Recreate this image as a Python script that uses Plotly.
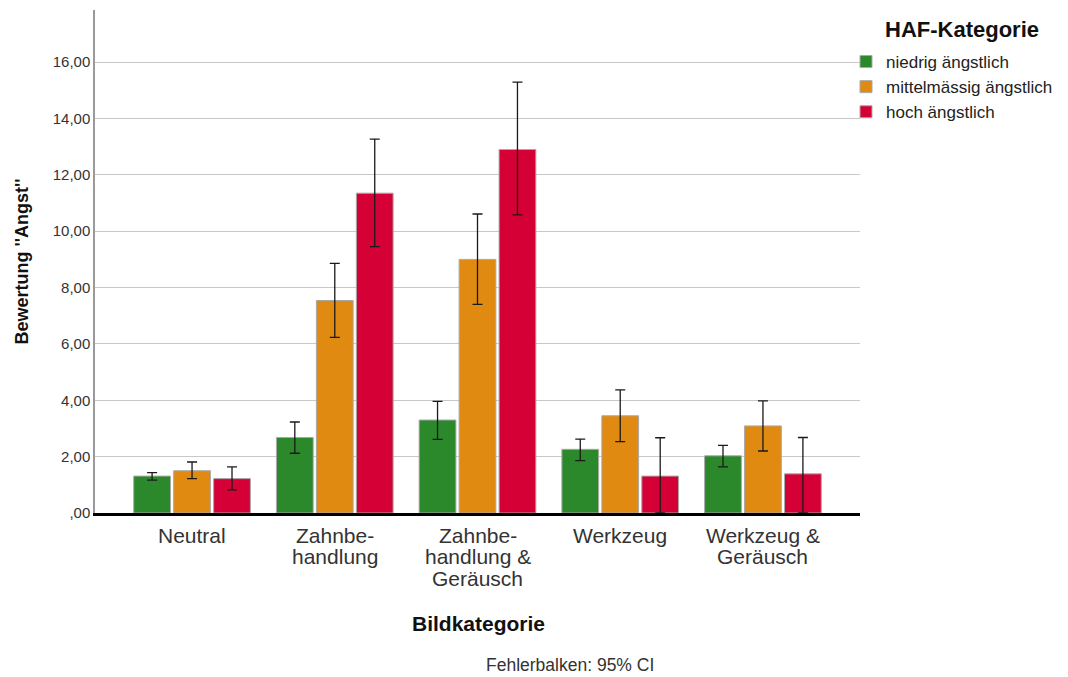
import plotly.graph_objects as go

# Picture categories (x axis), one entry per line of the label
categories = [
    ["Neutral"],
    ["Zahnbe-", "handlung"],
    ["Zahnbe-", "handlung &", "Geräusch"],
    ["Werkzeug"],
    ["Werkzeug &", "Geräusch"],
]

# Mean ratings per anxiety group
niedrig_mean = [1.31, 2.68, 3.30, 2.26, 2.03]
mittel_mean = [1.50, 7.54, 9.00, 3.45, 3.09]
hoch_mean = [1.22, 11.35, 12.90, 1.31, 1.39]

# 95% CI bounds per anxiety group
niedrig_upper = [1.43, 3.23, 3.96, 2.62, 2.40]
niedrig_lower = [1.17, 2.12, 2.61, 1.86, 1.64]
mittel_upper = [1.81, 8.86, 10.61, 4.37, 3.98]
mittel_lower = [1.22, 6.23, 7.40, 2.53, 2.20]
hoch_upper = [1.64, 13.27, 15.29, 2.67, 2.68]
hoch_lower = [0.82, 9.45, 10.58, 0.00, 0.00]

group_names = ["niedrig ängstlich", "mittelmässig ängstlich", "hoch ängstlich"]
group_colors = ["#2b882b", "#e08a12", "#d50036"]

y_ticks = [0, 2, 4, 6, 8, 10, 12, 14, 16]
y_ticktext = [",00", "2,00", "4,00", "6,00", "8,00", "10,00", "12,00", "14,00", "16,00"]

FONT = "Arial, Liberation Sans, sans-serif"

# plot area in pixels (used to place the free text)
PLOT_L, PLOT_R, PLOT_T, PLOT_B = 95, 860, 10, 513
W, H = 1068, 677


def px_x(px):
    return (px - PLOT_L) / (PLOT_R - PLOT_L)


def px_y(py):
    return (PLOT_B - py) / (PLOT_B - PLOT_T)


fig = go.Figure()
series = [
    (niedrig_mean, niedrig_upper, niedrig_lower),
    (mittel_mean, mittel_upper, mittel_lower),
    (hoch_mean, hoch_upper, hoch_lower),
]
x_idx = list(range(len(categories)))
for name, color, (mean, up, lo) in zip(group_names, group_colors, series):
    fig.add_trace(go.Bar(
        x=x_idx,
        y=mean,
        name=name,
        marker=dict(color=color, line=dict(color="#a9a9a9", width=1)),
        error_y=dict(
            type="data",
            symmetric=False,
            array=[u - m for u, m in zip(up, mean)],
            arrayminus=[m - l for m, l in zip(mean, lo)],
            color="#1a1a1a",
            thickness=1.3,
            width=5,
        ),
    ))

annotations = []
# category labels with tight line spacing
for i, lines in enumerate(categories):
    for k, line in enumerate(lines):
        annotations.append(dict(
            text=line, xref="x", yref="paper",
            x=i, y=px_y(535 + 21.5 * k),
            xanchor="center", yanchor="middle", showarrow=False,
            font=dict(size=21, color="#333333"),
        ))

annotations += [
    dict(text="<b>Bildkategorie</b>", xref="paper", yref="paper",
         x=px_x(478), y=px_y(623), xanchor="center", yanchor="middle",
         showarrow=False, font=dict(size=21, color="#111111")),
    dict(text="Fehlerbalken: 95% CI", xref="paper", yref="paper",
         x=px_x(570), y=px_y(665), xanchor="center", yanchor="middle",
         showarrow=False, font=dict(size=17.5, color="#333333")),
    dict(text="<b>HAF-Kategorie</b>", xref="paper", yref="paper",
         x=px_x(962), y=px_y(30), xanchor="center", yanchor="middle",
         showarrow=False, font=dict(size=22, color="#111111")),
]

fig.update_layout(
    width=W,
    height=H,
    barmode="group",
    bargap=0.16,
    bargroupgap=0.08,
    plot_bgcolor="white",
    paper_bgcolor="white",
    font=dict(family=FONT, color="#222222"),
    margin=dict(l=PLOT_L, r=W - PLOT_R, t=PLOT_T, b=H - PLOT_B),
    xaxis=dict(
        tickmode="array",
        tickvals=x_idx,
        showticklabels=False,
        range=[-0.68, 4.68],
        showline=True,
        linecolor="black",
        linewidth=3,
        showgrid=False,
        ticks="",
    ),
    yaxis=dict(
        range=[0, 17.85],
        tickmode="array",
        tickvals=y_ticks,
        ticktext=y_ticktext,
        tickfont=dict(size=15, color="#333333"),
        showline=True,
        linecolor="#9a9a9a",
        linewidth=1.5,
        showgrid=True,
        gridcolor="#c8c8c8",
        gridwidth=1,
        zeroline=False,
        ticks="",
        title=dict(text="<b>Bewertung ''Angst''</b>", font=dict(size=18, color="#111111"), standoff=19),
    ),
    legend=dict(
        x=px_x(846),
        xanchor="left",
        y=px_y(44),
        yanchor="top",
        font=dict(size=17, color="#222222"),
        bgcolor="rgba(0,0,0,0)",
        tracegroupgap=0,
    ),
    annotations=annotations,
)

fig.write_html("out.html")
